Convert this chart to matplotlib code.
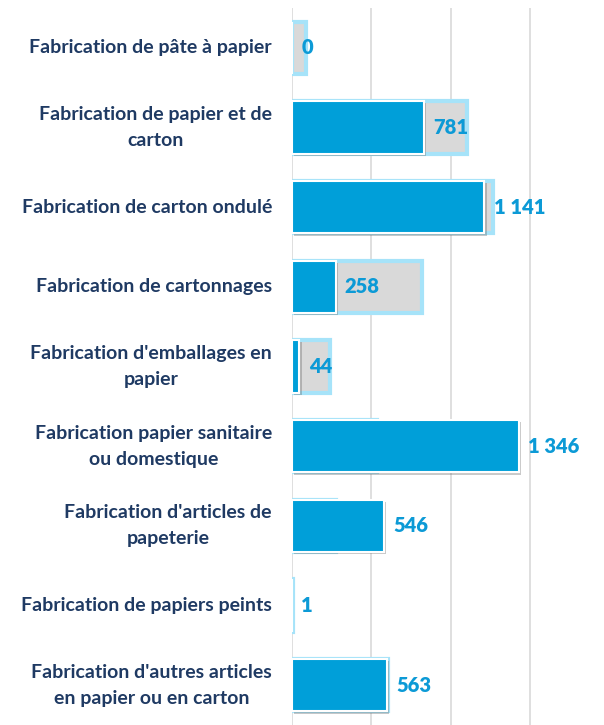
import matplotlib.pyplot as plt
import matplotlib.patheffects as pe
from matplotlib.ticker import MultipleLocator

# Categories and values
categories = [
    "Fabrication de pâte à papier",
    "Fabrication de papier et de\ncarton",
    "Fabrication de carton ondulé",
    "Fabrication de cartonnages",
    "Fabrication d'emballages en\npapier",
    "Fabrication papier sanitaire\nou domestique",
    "Fabrication d'articles de\npapeterie",
    "Fabrication de papiers peints",
    "Fabrication d'autres articles\nen papier ou en carton",
]
values = [0, 781, 1141, 258, 44, 1346, 546, 1, 563]
background = [85, 1040, 1190, 770, 225, 505, 262, 5, 572]
value_labels = ["0", "781", "1 141", "258", "44", "1 346", "546", "1", "563"]

blue = '#009fd9'
grey = '#d9d9d9'
glow = '#a6e3f9'
navy = '#1f3a63'

fig = plt.figure(figsize=(6.04, 7.25), dpi=100)
ax = fig.add_axes([292 / 604, 0, 312 / 604, 717 / 725])

y = list(range(len(categories)))

# Grey background bars with light blue glow
ax.barh(y, background, height=0.66, color=grey, edgecolor=glow, linewidth=3, zorder=2)

# Blue bars with white border and soft shadow
bars = ax.barh(y, values, height=0.66, color=blue, edgecolor='white', linewidth=1.5, zorder=3)
for b in bars:
    b.set_path_effects([pe.SimplePatchShadow(offset=(1.5, -1.5), shadow_rgbFace='#666666', alpha=0.35), pe.Normal()])

# Value labels
for yi, v, lab in zip(y, values, value_labels):
    ax.text(v + 55, yi, lab, va='center', ha='left', color='#0c9ad6',
            fontsize=14.5, fontweight='heavy', family='Lato', zorder=5)

# Category labels
for yi, cat in zip(y, categories):
    ax.text(-20 / 312, yi, cat, transform=ax.get_yaxis_transform(), ha='right', va='center',
            multialignment='center', color=navy, fontsize=14, fontweight='bold',
            family='Lato', linespacing=1.65)

ax.set_xlim(0, 1850)
ax.set_ylim(len(categories) - 0.5, -0.5)
ax.xaxis.set_major_locator(MultipleLocator(470))
ax.grid(axis='x', color='#d9d9d9', linewidth=1.2, zorder=0)
ax.set_axisbelow(True)
ax.tick_params(left=False, bottom=False, labelleft=False, labelbottom=False)
for s in ax.spines.values():
    s.set_visible(False)

plt.savefig('out.png', dpi=100)
